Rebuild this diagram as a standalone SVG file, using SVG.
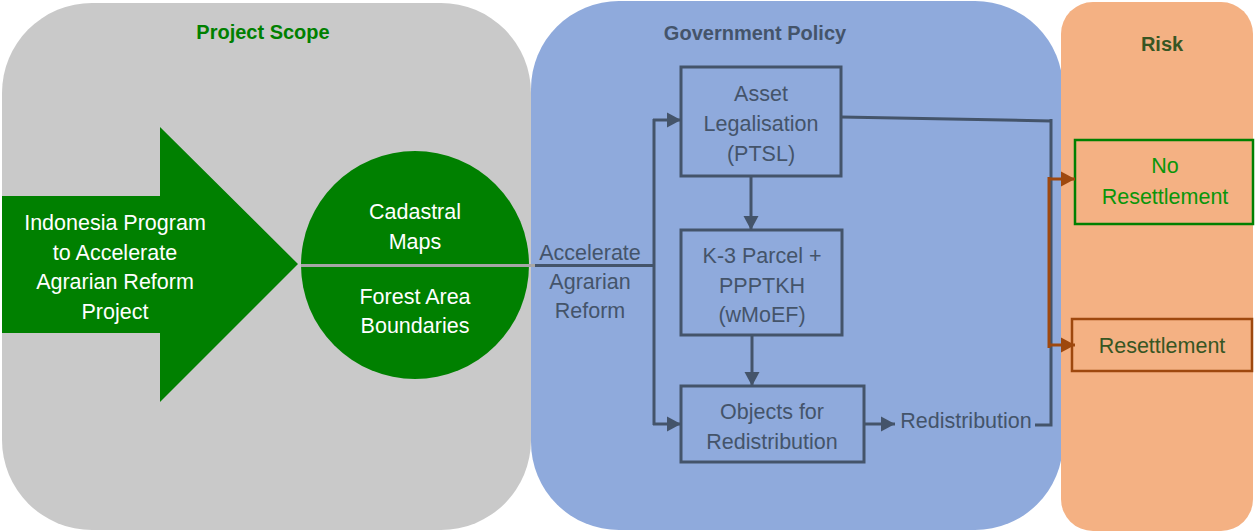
<svg xmlns="http://www.w3.org/2000/svg" width="1255" height="532" viewBox="0 0 1255 532">
<style>
text{font-family:"Liberation Sans",Arial,sans-serif;font-size:21.5px;text-anchor:middle}
.title{font-weight:bold;font-size:20px}
.w{fill:#ffffff}
.s{fill:#44546A}
.box{fill:none;stroke:#44546A;stroke-width:3}
.con{fill:none;stroke:#44546A;stroke-width:3}
.bcon{fill:none;stroke:#9E480E;stroke-width:3}
</style>
<defs>
<marker id="ah" markerUnits="userSpaceOnUse" markerWidth="16" markerHeight="16" refX="14" refY="8" orient="auto">
<path d="M0,0.5 L14,8 L0,15.5 Z" fill="#44546A"/>
</marker>
<marker id="bh" markerUnits="userSpaceOnUse" markerWidth="16" markerHeight="16" refX="14" refY="8" orient="auto">
<path d="M0,0.5 L14,8 L0,15.5 Z" fill="#9E480E"/>
</marker>
</defs>

<g id="panel-scope">
<rect x="2" y="3" width="529" height="527" rx="90" ry="90" fill="#C9C9C9"/>
<text class="title" x="263" y="39" fill="#008000">Project Scope</text>
</g>
<g id="panel-policy">
<rect x="531" y="1" width="532" height="529" rx="88" ry="88" fill="#8FAADC"/>
<text class="title" x="755" y="40" fill="#44546A">Government Policy</text>
</g>
<g id="panel-risk">
<rect x="1061" y="2" width="192" height="529" rx="32" ry="32" fill="#F4B183"/>
<text class="title" x="1162" y="51" fill="#375623">Risk</text>
</g>

<g id="program-arrow">
<polygon points="2,196 160,196 160,127 298,264 160,402 160,333 2,333" fill="#008000"/>
<text class="w" x="115" y="230">Indonesia Program</text>
<text class="w" x="115" y="260">to Accelerate</text>
<text class="w" x="115" y="289">Agrarian Reform</text>
<text class="w" x="115" y="319">Project</text>
</g>

<g id="maps-circle">
<circle cx="415" cy="265" r="114" fill="#008000"/>
<text class="w" x="415" y="219">Cadastral</text>
<text class="w" x="415" y="249">Maps</text>
<text class="w" x="415" y="304">Forest Area</text>
<text class="w" x="415" y="333">Boundaries</text>
</g>

<g id="asset-legalisation">
<rect class="box" x="681" y="67" width="160" height="109"/>
<text class="s" x="761" y="101">Asset</text>
<text class="s" x="761" y="131">Legalisation</text>
<text class="s" x="761" y="161">(PTSL)</text>
</g>
<g id="k3-parcel">
<rect class="box" x="681" y="230" width="161" height="105"/>
<text class="s" x="762" y="263">K-3 Parcel +</text>
<text class="s" x="762" y="293">PPPTKH</text>
<text class="s" x="762" y="322">(wMoEF)</text>
</g>
<g id="objects-redistribution">
<rect class="box" x="681" y="386" width="183" height="76"/>
<text class="s" x="772" y="419">Objects for</text>
<text class="s" x="772" y="449">Redistribution</text>
</g>
<g id="no-resettlement">
<rect x="1075" y="140" width="178" height="84" fill="none" stroke="#008000" stroke-width="2.5"/>
<text x="1165" y="173" fill="#0A960A">No</text>
<text x="1165" y="204" fill="#0A960A">Resettlement</text>
</g>
<g id="resettlement">
<rect x="1072" y="319" width="180" height="52" fill="none" stroke="#9E480E" stroke-width="2.5"/>
<text x="1162" y="353" fill="#375623">Resettlement</text>
</g>

<g id="connectors">
<line x1="301" y1="265.5" x2="536" y2="265.5" stroke="#A6A6A6" stroke-width="3"/>
<polyline class="con" points="535,265.5 654,265.5"/>
<line class="con" x1="654" y1="119" x2="654" y2="425"/>
<line class="con" x1="653" y1="120" x2="681" y2="120" marker-end="url(#ah)"/>
<line class="con" x1="653" y1="424" x2="681" y2="424" marker-end="url(#ah)"/>
<line class="con" x1="751" y1="176" x2="751" y2="230" marker-end="url(#ah)"/>
<line class="con" x1="752" y1="335" x2="752" y2="386" marker-end="url(#ah)"/>
<line class="con" x1="864" y1="424" x2="895" y2="424" marker-end="url(#ah)"/>
<text class="s" x="966" y="428">Redistribution</text>
<polyline class="con" points="841,117 1051,121"/>
<polyline class="con" points="1035,425 1051,425 1051,119"/>
<line class="bcon" x1="1049" y1="177" x2="1049" y2="348"/>
<line class="bcon" x1="1049" y1="179" x2="1075" y2="179" marker-end="url(#bh)"/>
<line class="bcon" x1="1049" y1="345" x2="1075" y2="345" marker-end="url(#bh)"/>
<text x="590" y="260" class="s">Accelerate</text>
<text x="590" y="289" class="s">Agrarian</text>
<text x="590" y="318" class="s">Reform</text>
</g>
</svg>
